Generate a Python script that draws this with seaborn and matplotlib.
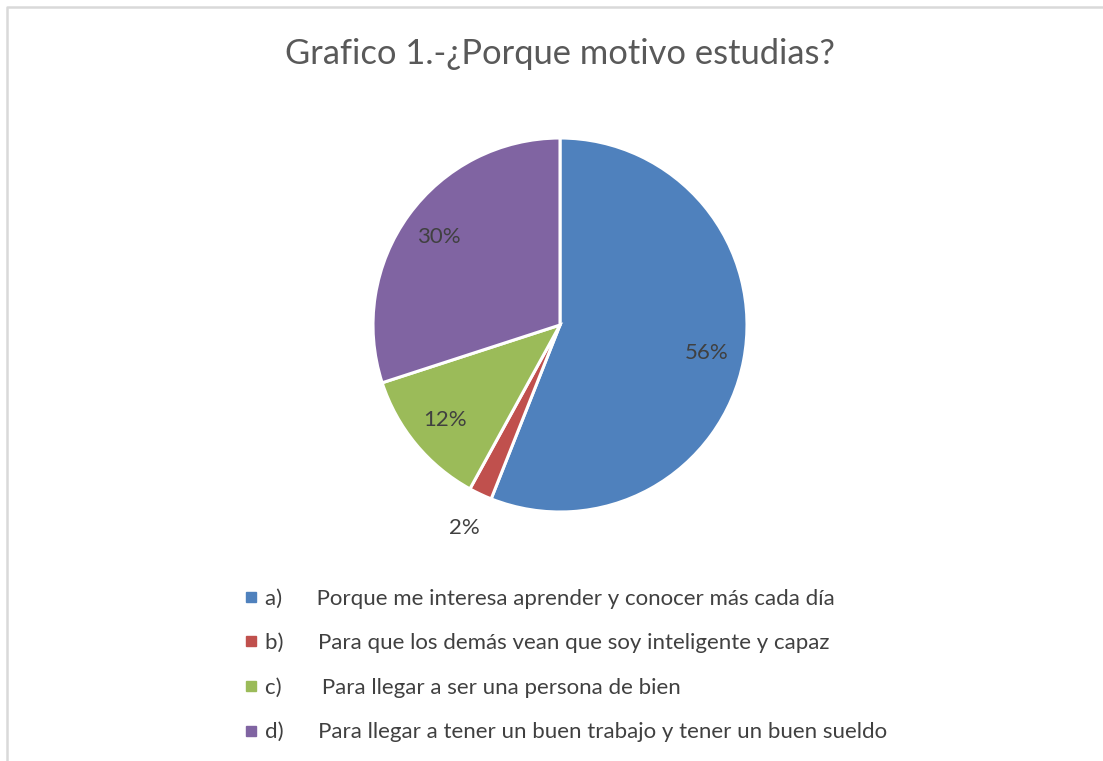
import matplotlib
matplotlib.use('Agg')
import matplotlib.pyplot as plt
import seaborn as sns
import numpy as np
from matplotlib.lines import Line2D

# Data
titulo = 'Grafico 1.-¿Porque motivo estudias?'
letras = ['a)', 'b)', 'c)', 'd)']
motivos = ['Porque me interesa aprender y conocer más cada día',
           'Para que los demás vean que soy inteligente y capaz',
           ' Para llegar a ser una persona de bien',
           'Para llegar a tener un buen trabajo y tener un buen sueldo']
porcentajes = [56, 2, 12, 30]
colores = ['#4F81BD', '#C0504D', '#9BBB59', '#8064A2']

sns.set_theme(style='white')
plt.rcParams['font.family'] = ['Lato', 'DejaVu Sans']

W, H = 1103, 761
fig = plt.figure(figsize=(W / 100, H / 100), dpi=100)
fig.patch.set_facecolor('white')

# pie placement (pixels)
cx, cy, r = 560, 325, 187
pad = 1.03
ax = fig.add_axes([(cx - r * pad) / W, (H - cy - r * pad) / H, 2 * r * pad / W, 2 * r * pad / H])
wedges, texts, autotexts = ax.pie(
    porcentajes, colors=colores, startangle=90, counterclock=False,
    autopct='%1.0f%%', pctdistance=0.8,
    wedgeprops=dict(edgecolor='white', linewidth=2.2),
    textprops=dict(color='#404040', fontsize=16))
ax.set_xlim(-pad, pad)
ax.set_ylim(-pad, pad)
ax.axis('off')

# small slice label goes outside
for w, t, v in zip(wedges, autotexts, porcentajes):
    if v < 5:
        ang = np.deg2rad((w.theta1 + w.theta2) / 2)
        t.set_position((1.2 * np.cos(ang), 1.2 * np.sin(ang)))

fig.text(cx / W, 1 - 54 / H, titulo, ha='center', va='center', fontsize=24.8, color='#595959')

handles = [Line2D([], [], marker='s', linestyle='', markersize=7, color=c) for c in colores]
etiquetas = [f'{l}      {m}' for l, m in zip(letras, motivos)]
fig.legend(handles, etiquetas, loc='upper left', bbox_to_anchor=(243 / W, 1 - 588 / H),
           frameon=False, fontsize=16, labelcolor='#404040', handlelength=0.7,
           handletextpad=0.3, labelspacing=1.08, borderpad=0, borderaxespad=0)

# chart border (left and top visible)
fig.add_artist(Line2D([7 / W, 7 / W, 1], [0, 1 - 7 / H, 1 - 7 / H], transform=fig.transFigure,
                      color='#d9d9d9', lw=1.8))

fig.savefig('out.png', dpi=100)
